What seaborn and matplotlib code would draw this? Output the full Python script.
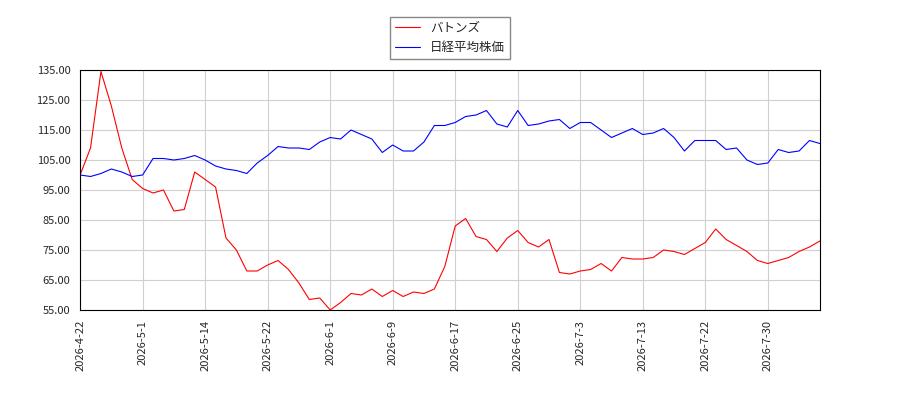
import numpy as np
import pandas as pd
import seaborn as sns
import matplotlib
matplotlib.use("Agg")
import matplotlib.pyplot as plt

# trading days, Japanese holidays removed
hol = pd.to_datetime(["2026-04-29", "2026-05-04", "2026-05-05", "2026-05-06", "2026-07-20"])
dates = [d for d in pd.bdate_range("2026-04-22", "2026-08-06") if d not in hol]
labels = [d.strftime("%Y-%-m-%-d") for d in dates]

baton = [100, 109, 134.5, 123, 109, 98.5, 95.5, 94, 95, 88, 88.5, 101, 98.5, 96, 79, 75,
         68, 68, 70, 71.5, 68.5, 64, 58.5, 59, 55, 57.5, 60.5, 60, 62, 59.5, 61.5, 59.5,
         61, 60.5, 62, 69.5, 83, 85.5, 79.5, 78.5, 74.5, 79, 81.5, 77.5, 76, 78.5, 67.5,
         67, 68, 68.5, 70.5, 68, 72.5, 72, 72, 72.5, 75, 74.5, 73.5, 75.5, 77.5, 82, 78.5,
         76.5, 74.5, 71.5, 70.5, 71.5, 72.5, 74.5, 76, 78]
nikkei = [100, 99.5, 100.5, 102, 101, 99.5, 100, 105.5, 105.5, 105, 105.5, 106.5, 105,
          103, 102, 101.5, 100.5, 104, 106.5, 109.5, 109, 109, 108.5, 111, 112.5, 112,
          115, 113.5, 112, 107.5, 110, 108, 108, 111, 116.5, 116.5, 117.5, 119.5, 120,
          121.5, 117, 116, 121.5, 116.5, 117, 118, 118.5, 115.5, 117.5, 117.5, 115, 112.5,
          114, 115.5, 113.5, 114, 115.5, 112.5, 108, 111.5, 111.5, 111.5, 108.5, 109, 105,
          103.5, 104, 108.5, 107.5, 108, 111.5, 110.5]

n = min(len(dates), len(baton))
df = pd.DataFrame({"i": list(range(n)) * 2,
                   "v": baton[:n] + nikkei[:n],
                   "s": ["バトンズ"] * n + ["日経平均株価"] * n})

sns.set_style("white")
plt.rcParams["font.family"] = ["Noto Sans CJK JP", "DejaVu Sans"]
fig = plt.figure(figsize=(9, 4), dpi=100)
ax = fig.add_axes([0.089, 0.225, 0.822, 0.6])
sns.lineplot(data=df, x="i", y="v", hue="s", palette=["red", "blue"], lw=0.8, ax=ax)
ax.set_xlim(0, n - 1)
ax.set_ylim(55, 135)
ax.set_yticks(np.arange(55, 136, 10))
ax.set_yticklabels([f"{v:.2f}" for v in np.arange(55, 136, 10)], fontsize=8)
ticks = list(range(0, n, 6))
ax.set_xticks(ticks)
ax.set_xticklabels([labels[t] for t in ticks], rotation=90, fontsize=8)
ax.grid(True, color="#d0d0d0", lw=0.8)
ax.set_xlabel("")
ax.set_ylabel("")
for s in ax.spines.values():
    s.set_color("black")
    s.set_linewidth(0.8)
ax.legend(loc="lower center", bbox_to_anchor=(0.5, 1.02), fontsize=9, fancybox=False,
          edgecolor="#888888", framealpha=1)
fig.savefig("out.png")
